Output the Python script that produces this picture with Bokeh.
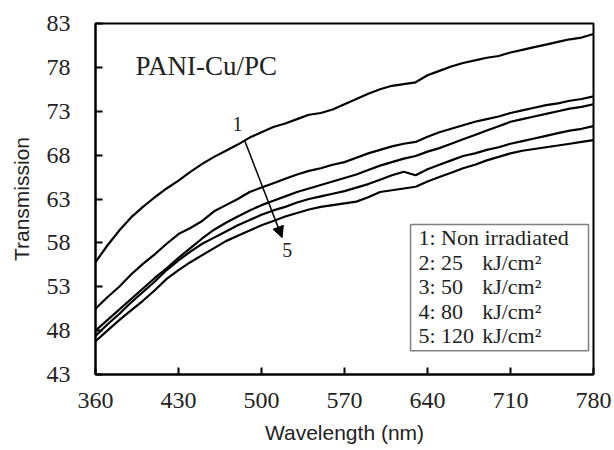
from bokeh.plotting import figure
from bokeh.models import Range1d, FixedTicker, Label, Arrow, NormalHead, BoxAnnotation
from bokeh.embed import file_html
from bokeh.resources import INLINE

# ---- data ----
wavelength = [360, 370, 380, 390, 400, 410, 420, 430, 440, 450, 460, 470, 480, 490, 500,
              510, 520, 530, 540, 550, 560, 570, 580, 590, 600, 610, 620, 630, 640, 650,
              660, 670, 680, 690, 700, 710, 720, 730, 740, 750, 760, 770, 780]

t_non_irradiated = [55.8, 57.7, 59.4, 60.9, 62.1, 63.2, 64.2, 65.1, 66.1, 67.0, 67.8, 68.5, 69.2, 70.0, 70.6,
                    71.2, 71.6, 72.1, 72.6, 72.8, 73.2, 73.8, 74.4, 75.0, 75.5, 75.9, 76.1, 76.3, 77.1, 77.6,
                    78.1, 78.5, 78.8, 79.1, 79.3, 79.7, 80.0, 80.3, 80.6, 80.9, 81.2, 81.4, 81.8]
t_25 = [50.5, 51.8, 53.0, 54.4, 55.6, 56.7, 57.9, 59.0, 59.7, 60.5, 61.6, 62.3, 63.0, 63.8, 64.3,
        64.8, 65.3, 65.8, 66.2, 66.5, 66.9, 67.2, 67.7, 68.2, 68.6, 69.0, 69.3, 69.5, 70.1, 70.6,
        71.0, 71.4, 71.8, 72.1, 72.4, 72.8, 73.1, 73.4, 73.7, 73.9, 74.2, 74.4, 74.7]
t_50 = [48.0, 49.2, 50.4, 51.6, 52.8, 54.0, 55.1, 56.3, 57.4, 58.5, 59.5, 60.3, 61.0, 61.7, 62.3,
        62.8, 63.3, 63.8, 64.2, 64.6, 65.0, 65.4, 65.8, 66.3, 66.8, 67.2, 67.6, 67.9, 68.4, 68.8,
        69.3, 69.8, 70.3, 70.8, 71.3, 71.8, 72.1, 72.4, 72.7, 73.0, 73.3, 73.5, 73.8]
t_80 = [47.4, 48.7, 49.9, 51.2, 52.4, 53.6, 54.9, 56.0, 57.0, 57.9, 58.6, 59.3, 60.0, 60.6, 61.2,
        61.7, 62.1, 62.6, 63.0, 63.3, 63.6, 63.9, 64.3, 64.7, 65.2, 65.7, 66.1, 65.7, 66.4, 66.9,
        67.4, 67.9, 68.2, 68.6, 68.9, 69.3, 69.6, 69.9, 70.2, 70.5, 70.8, 71.0, 71.3]
t_120 = [46.8, 48.0, 49.2, 50.3, 51.4, 52.6, 53.9, 54.9, 55.8, 56.6, 57.4, 58.2, 58.8, 59.4, 60.0,
         60.5, 61.0, 61.4, 61.8, 62.1, 62.3, 62.5, 62.7, 63.2, 63.8, 64.0, 64.2, 64.4, 65.0, 65.5,
         66.0, 66.5, 66.9, 67.4, 67.8, 68.2, 68.5, 68.7, 68.9, 69.1, 69.3, 69.5, 69.7]

series = [t_non_irradiated, t_25, t_50, t_80, t_120]

x_ticks = [360, 430, 500, 570, 640, 710, 780]
y_ticks = [43, 48, 53, 58, 63, 68, 73, 78, 83]

legend_ids = ["1: Non irradiated", "2: 25", "3: 50", "4: 80", "5: 120"]
legend_unit = "kJ/cm\u00b2"
title_text = "PANI-Cu/PC"

SERIF = "Times New Roman"
SANS = "Liberation Sans"

p = figure(width=614, height=450, output_backend="svg", toolbar_location=None,
           x_range=Range1d(360, 780), y_range=Range1d(43, 83),
           min_border_left=95, min_border_right=21, min_border_top=23, min_border_bottom=76)

p.background_fill_color = "white"
p.border_fill_color = "white"
p.grid.visible = False
p.outline_line_color = "black"
p.outline_line_width = 2

for ax in (p.xaxis[0], p.yaxis[0]):
    ax.axis_line_color = "black"
    ax.axis_line_width = 2
    ax.major_tick_in = 7
    ax.major_tick_out = 0
    ax.major_tick_line_width = 2
    ax.major_tick_line_color = "black"
    ax.minor_tick_line_color = None
    ax.major_label_text_font = SERIF
    ax.major_label_text_font_size = "24px"
    ax.major_label_text_color = "#222222"
    ax.axis_label_text_font = SANS
    ax.axis_label_text_font_size = "21px"
    ax.axis_label_text_font_style = "normal"
    ax.axis_label_text_color = "#222222"

p.xaxis.ticker = FixedTicker(ticks=x_ticks)
p.yaxis.ticker = FixedTicker(ticks=y_ticks)
p.xaxis.axis_label = "Wavelength (nm)"
p.yaxis.axis_label = "Transmission"
p.xaxis.major_label_standoff = 18
p.yaxis.major_label_standoff = 25
p.xaxis.axis_label_standoff = 10
p.yaxis.axis_label_standoff = 11

for ys in series:
    p.line(wavelength, ys, line_color="black", line_width=2.2)

# title inside plot
p.add_layout(Label(x=393.7, y=78.2, text=title_text, text_font=SERIF, text_font_size="27px",
                   text_color="#222222", text_baseline="alphabetic", text_align="left"))

# arrow 1 -> 5
p.add_layout(Arrow(x_start=485.7, y_start=69.7, x_end=517.4, y_end=58.6, line_width=1.5,
                   line_color="black",
                   end=NormalHead(size=11, fill_color="black", line_color="black")))
p.add_layout(Label(x=479.8, y=71.6, text="1", text_font=SERIF, text_font_size="20px",
                   text_color="#222222", text_align="center", text_baseline="middle"))
p.add_layout(Label(x=521.7, y=57.2, text="5", text_font=SERIF, text_font_size="20px",
                   text_color="#222222", text_align="center", text_baseline="middle"))

# legend box
p.add_layout(BoxAnnotation(left=625.7, right=775.8, bottom=45.7, top=60.1,
                           fill_color="white", fill_alpha=1.0,
                           line_color="#808080", line_width=1.5, line_alpha=1.0))
row_y = [58.6, 55.8, 53.0, 50.2, 47.4]
for i, (txt, yy) in enumerate(zip(legend_ids, row_y)):
    p.add_layout(Label(x=632.4, y=yy, text=txt, text_font=SERIF, text_font_size="22px",
                       text_color="#222222", text_align="left", text_baseline="middle"))
    if i > 0:
        p.add_layout(Label(x=686.1, y=yy, text=legend_unit, text_font=SERIF, text_font_size="22px",
                           text_color="#222222", text_align="left", text_baseline="middle"))

open("out.html", "w").write(file_html(p, INLINE))
